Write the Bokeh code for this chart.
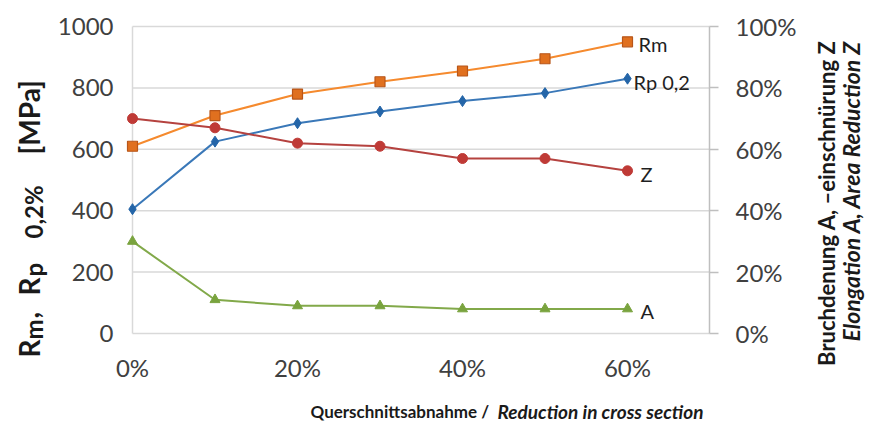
import math
from bokeh.plotting import figure
from bokeh.models import Range1d, LinearAxis, FixedTicker, NumeralTickFormatter, PrintfTickFormatter
from bokeh.core.properties import value
from bokeh.embed import file_html
from bokeh.resources import INLINE

# ---- data ----
reduction = [0.0, 0.1, 0.2, 0.3, 0.4, 0.5, 0.6]
rm = [610, 710, 780, 820, 855, 895, 950]
rp02 = [405, 625, 685, 723, 757, 783, 830]
z_pct = [70, 67, 62, 61, 57, 57, 53]
a_pct = [30, 11, 9, 9, 8, 8, 8]
series_names = ["Rm", "Rp 0,2", "Z", "A"]
x_ticks = [0.0, 0.2, 0.4, 0.6]
mpa_ticks = [0, 200, 400, 600, 800, 1000]
pct_ticks = [0, 20, 40, 60, 80, 100]

FONT = "Lato"
TICK_COLOR = "#404040"
TITLE_COLOR = "#1A1A1A"
GRID = "#D9D9D9"
AXIS_GREY = "#BFBFBF"

# ---- layout (pixels) ----
W, H = 879, 426
AREA_L, AREA_R, AREA_B = 124, 709, 335   # plot-area edges
X0_PX, X_SCALE = 132, 825.0               # x pixel of 0 %, pixels per unit
Y0_PX, Y_SCALE = 333, 307 / 1000.0         # y pixel of 0 MPa, pixels per MPa

def dx(px):
    return (px - X0_PX) / X_SCALE
def dy(py):
    return (Y0_PX - py) / Y_SCALE

p = figure(width=W, height=H, x_range=Range1d(dx(0), dx(W)), y_range=Range1d(dy(H), dy(0)),
           output_backend="svg", toolbar_location=None, title=None,
           x_axis_type=None, y_axis_type=None,
           min_border=0, min_border_left=0, min_border_right=0, min_border_top=0, min_border_bottom=0)
p.outline_line_color = None
p.extra_y_ranges = {"pct": Range1d(dy(H) / 10, dy(0) / 10)}

x_end = dx(AREA_R)

# grid lines and left border
p.segment(x0=[0] * len(mpa_ticks), y0=mpa_ticks, x1=[x_end] * len(mpa_ticks), y1=mpa_ticks,
          line_color=GRID, line_width=1.5)
p.segment(x0=[0], y0=[mpa_ticks[0]], x1=[0], y1=[mpa_ticks[-1]], line_color=GRID, line_width=1.5)

# axes (pinned to the plot-area edges)
xa = LinearAxis(ticker=FixedTicker(ticks=x_ticks), formatter=NumeralTickFormatter(format="0%"),
                fixed_location=dy(AREA_B))
xa.axis_line_color = None
xa.major_tick_line_color = None
xa.minor_tick_line_color = None
xa.major_label_text_font = FONT
xa.major_label_text_font_size = "24px"
xa.major_label_text_color = TICK_COLOR
xa.major_label_standoff = 11
p.add_layout(xa, "below")

ya = LinearAxis(ticker=FixedTicker(ticks=mpa_ticks), fixed_location=dx(AREA_L), bounds=(0, 1000))
ya.axis_line_color = None
ya.major_tick_line_color = None
ya.minor_tick_line_color = None
ya.major_label_text_font = FONT
ya.major_label_text_font_size = "24px"
ya.major_label_text_color = TICK_COLOR
ya.major_label_standoff = 5
p.add_layout(ya, "left")

ra = LinearAxis(y_range_name="pct", ticker=FixedTicker(ticks=pct_ticks),
                formatter=PrintfTickFormatter(format="%d%%"), fixed_location=x_end, bounds=(0, 100))
ra.axis_line_color = AXIS_GREY
ra.axis_line_width = 1.5
ra.major_tick_line_color = AXIS_GREY
ra.major_tick_line_width = 1.5
ra.major_tick_out = 9
ra.major_tick_in = 0
ra.minor_tick_line_color = None
ra.major_label_text_font = FONT
ra.major_label_text_font_size = "24px"
ra.major_label_text_color = TICK_COLOR
ra.major_label_standoff = 17
p.add_layout(ra, "right")

# series
p.line(reduction, rm, line_color="#F58A2E", line_width=2)
p.scatter(reduction, rm, marker="square", size=10, fill_color="#E0701F", line_color="#B8561A", line_width=1.2)

p.line(reduction, rp02, line_color="#3A78B8", line_width=2)
p.scatter(reduction, rp02, marker="diamond", size=11, fill_color="#2465A8", line_color="#2465A8")

p.line(reduction, z_pct, y_range_name="pct", line_color="#B5423F", line_width=2)
p.scatter(reduction, z_pct, y_range_name="pct", marker="circle", size=10, fill_color="#BF3A36", line_color="#BF3A36")

p.line(reduction, a_pct, y_range_name="pct", line_color="#82A94A", line_width=2)
p.scatter(reduction, a_pct, y_range_name="pct", marker="triangle", size=10, fill_color="#79A33E", line_color="#79A33E")

# series labels next to the last points
lab_kw = dict(text_font=value(FONT), text_font_size="20px", text_color="#1F1F1F", text_baseline="middle")
p.text(x=[reduction[-1]], y=[rm[-1]], text=[series_names[0]], x_offset=11, y_offset=2, **lab_kw)
p.text(x=[reduction[-1]], y=[rp02[-1]], text=[series_names[1]], x_offset=6, y_offset=3, **lab_kw)
p.text(x=[reduction[-1]], y=[z_pct[-1]], y_range_name="pct", text=[series_names[2]], x_offset=13, y_offset=3, **lab_kw)
p.text(x=[reduction[-1]], y=[a_pct[-1]], y_range_name="pct", text=[series_names[3]], x_offset=13, y_offset=2, **lab_kw)

# left axis title with subscripts (rotated, reads bottom to top)
main_pieces = [("R", 28, 357), (",", 28, 318), ("R", 28, 295), ("[MPa]", 28, 154)]
sub_pieces = [("m", 33, 339), ("p", 33, 276), ("0,2%", 33, 238)]
p.text(x=[dx(q[1]) for q in main_pieces], y=[dy(q[2]) for q in main_pieces], text=[q[0] for q in main_pieces],
       angle=math.pi / 2, text_font=value(FONT), text_font_size="28px", text_font_style="bold",
       text_color=TITLE_COLOR, text_align="left", text_baseline="alphabetic")
p.text(x=[dx(q[1]) for q in sub_pieces], y=[dy(q[2]) for q in sub_pieces], text=[q[0] for q in sub_pieces],
       angle=math.pi / 2, text_font=value(FONT), text_font_size="24px", text_font_style="bold",
       text_color=TITLE_COLOR, text_align="left", text_baseline="alphabetic")

# right axis title (two rotated lines)
p.text(x=[dx(826)], y=[dy(40)], text=["Bruchdenung A, \u2013einschn\u00fcrung Z"], angle=math.pi / 2,
       text_font=value(FONT), text_font_size="22px", text_font_style="bold", text_color=TITLE_COLOR,
       text_align="right", text_baseline="alphabetic")
p.text(x=[dx(850)], y=[dy(40)], text=["Elongation A, Area Reduction Z"], angle=math.pi / 2,
       text_font=value(FONT), text_font_size="23px", text_font_style="bold italic", text_color=TITLE_COLOR,
       text_align="right", text_baseline="alphabetic")

# x axis title
p.text(x=[dx(310)], y=[dy(411)], text=["Querschnittsabnahme /"], text_font=value(FONT), text_font_size="17px",
       text_font_style="bold", text_color=TITLE_COLOR, text_align="left", text_baseline="alphabetic")
p.text(x=[dx(497)], y=[dy(411)], text=["Reduction in cross section"], text_font=value(FONT), text_font_size="19px",
       text_font_style="bold italic", text_color=TITLE_COLOR, text_align="left", text_baseline="alphabetic")

open("out.html", "w").write(file_html(p, INLINE))
